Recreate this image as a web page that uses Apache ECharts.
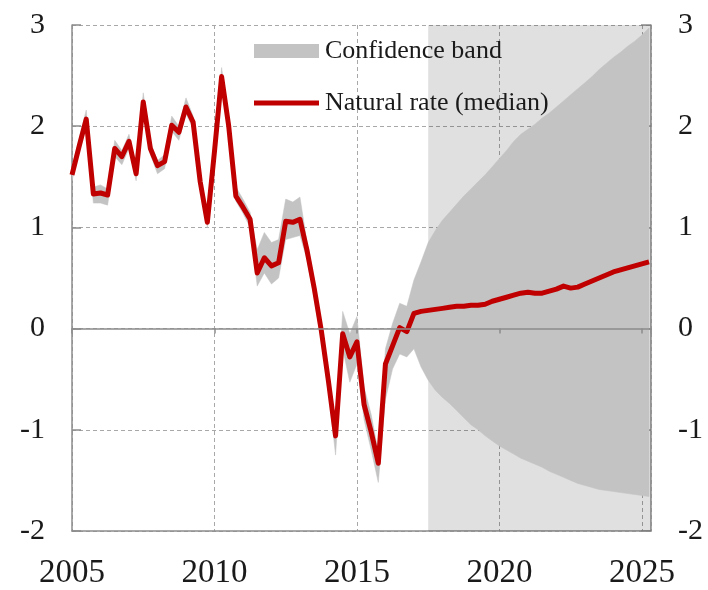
<!DOCTYPE html>
<html>
<head>
<meta charset="utf-8">
<script src="https://cdn.jsdelivr.net/npm/echarts@6/dist/echarts.min.js"></script>
<style>
  html, body { margin: 0; padding: 0; background: #ffffff; }
  #chart { width: 708px; height: 590px; }
</style>
</head>
<body>
<div id="chart"></div>
<script>
// Quarterly observations starting 2005Q1 (x = year + quarter offset)
const firstYear = 2005;
const quarterStep = 0.25;

// Natural rate of interest, median estimate (%), 2005Q1 .. 2025Q2
const median = [
  1.52, 1.80, 2.07, 1.33, 1.34, 1.32, 1.78, 1.70, 1.85, 1.53, 2.24, 1.78,
  1.61, 1.65, 2.01, 1.94, 2.19, 2.04, 1.45, 1.05, 1.75, 2.49, 2.00, 1.31,
  1.20, 1.08, 0.55, 0.70, 0.62, 0.65, 1.06, 1.05, 1.08, 0.77, 0.40, -0.02,
  -0.52, -1.06, -0.05, -0.28, -0.13, -0.75, -1.02, -1.33, -0.35, -0.17, 0.01, -0.03,
  0.15, 0.17, 0.18, 0.19, 0.20, 0.21, 0.22, 0.22, 0.23, 0.23, 0.24, 0.27,
  0.29, 0.31, 0.33, 0.35, 0.36, 0.35, 0.35, 0.37, 0.39, 0.42, 0.40, 0.41,
  0.44, 0.47, 0.50, 0.53, 0.56, 0.58, 0.60, 0.62, 0.64, 0.66
];

// Upper edge of the confidence band
const bandUpper = [
  1.58, 1.88, 2.16, 1.40, 1.42, 1.38, 1.86, 1.76, 1.92, 1.60, 2.33, 1.84,
  1.66, 1.72, 2.10, 2.00, 2.28, 2.10, 1.52, 1.10, 1.80, 2.58, 2.06, 1.40,
  1.28, 1.15, 0.78, 0.95, 0.85, 0.88, 1.28, 1.25, 1.30, 0.85, 0.48, 0.05,
  -0.44, -0.98, 0.17, -0.05, 0.12, -0.58, -0.85, -1.22, -0.20, 0.05, 0.25, 0.22,
  0.48, 0.66, 0.85, 0.97, 1.07, 1.15, 1.23, 1.31, 1.38, 1.45, 1.52, 1.60,
  1.68, 1.76, 1.85, 1.92, 1.97, 2.02, 2.08, 2.13, 2.19, 2.25, 2.31, 2.37,
  2.43, 2.49, 2.56, 2.62, 2.68, 2.73, 2.79, 2.84, 2.90, 2.97
];

// Lower edge of the confidence band
const bandLower = [
  1.46, 1.74, 2.00, 1.24, 1.24, 1.22, 1.70, 1.62, 1.78, 1.46, 2.18, 1.72,
  1.53, 1.58, 1.95, 1.86, 2.12, 1.98, 1.40, 1.00, 1.70, 2.44, 1.94, 1.26,
  1.14, 1.00, 0.42, 0.55, 0.44, 0.50, 0.88, 0.90, 0.92, 0.68, 0.30, -0.12,
  -0.62, -1.25, -0.20, -0.53, -0.35, -0.90, -1.20, -1.52, -0.70, -0.40, -0.25, -0.28,
  -0.20, -0.38, -0.51, -0.61, -0.68, -0.74, -0.81, -0.88, -0.95, -1.00, -1.06, -1.11,
  -1.16, -1.20, -1.24, -1.28, -1.31, -1.34, -1.37, -1.41, -1.44, -1.47, -1.50, -1.53,
  -1.55, -1.57, -1.59, -1.60, -1.61, -1.62, -1.63, -1.64, -1.65, -1.66
];

// Projection period (shaded)
const forecastStart = 2017.5;

// Axis ticks
const yearTicks = [2005, 2010, 2015, 2020, 2025];
const valueTicks = [-2, -1, 0, 1, 2, 3];

const xMin = yearTicks[0];
const xMax = 2025.32;
const yMin = valueTicks[0];
const yMax = valueTicks[valueTicks.length - 1];

const xOf = i => firstYear + i * quarterStep;
const medianData = median.map((v, i) => [xOf(i), v]);
const bandData = bandUpper.map((v, i) => [xOf(i), v, bandLower[i]]);

const FONT = '"Liberation Serif", "Times New Roman", serif';
const AXIS_GREY = '#8c8c8c';
const GRID_GREY = '#a8a8a8';
const BAND = '#c3c3c3';
const RED = '#c00000';

// The band is one polygon: upper edge left→right, lower edge right→left
function renderBand(params, api) {
  if (params.dataIndex !== 0) return null;
  const pts = [];
  for (let i = 0; i < bandData.length; i++) {
    pts.push(api.coord([bandData[i][0], bandData[i][1]]));
  }
  for (let i = bandData.length - 1; i >= 0; i--) {
    pts.push(api.coord([bandData[i][0], bandData[i][2]]));
  }
  return {
    type: 'polygon',
    shape: { points: pts },
    style: { fill: BAND, stroke: BAND, lineWidth: 0.5 }
  };
}

const chart = echarts.init(document.getElementById('chart'), null, { renderer: 'canvas' });

chart.setOption({
  animation: false,
  backgroundColor: '#ffffff',
  grid: { left: 72, right: 57, top: 25, bottom: 57, containLabel: false },
  legend: {
    orient: 'vertical',
    left: 254,
    top: 38,
    itemWidth: 65,
    itemHeight: 14,
    itemGap: 26,
    padding: 0,
    selectedMode: false,
    itemStyle: { borderWidth: 0 },
    textStyle: { fontFamily: FONT, fontSize: 26, color: '#1a1a1a', padding: [0, 0, 0, 1] },
    data: [
      { name: 'Confidence band', icon: 'rect', itemStyle: { color: BAND } },
      { name: 'Natural rate (median)', icon: 'path://M0,0H65V5H0Z', itemStyle: { color: RED } }
    ]
  },
  xAxis: [
    {
      type: 'value',
      min: xMin,
      max: xMax,
      interval: 5,
      position: 'bottom',
      axisLine: { onZero: false, lineStyle: { color: AXIS_GREY, width: 1.5 } },
      axisTick: { show: false },
      axisLabel: {
        fontFamily: FONT, fontSize: 33, color: '#1a1a1a', margin: 26,
        formatter: v => String(v)
      },
      splitLine: { show: true, lineStyle: { color: GRID_GREY, type: [4, 3], width: 1 } }
    },
    {
      // zero line with its year ticks, drawn above the band
      type: 'value',
      min: xMin,
      max: xMax,
      interval: 5,
      position: 'bottom',
      z: 10,
      axisLine: { show: true, onZero: true, lineStyle: { color: AXIS_GREY, width: 1.5 } },
      axisTick: { show: true, inside: false, length: 5, lineStyle: { color: AXIS_GREY, width: 1.5 } },
      axisLabel: { show: false },
      splitLine: { show: false }
    }
  ],
  yAxis: [
    {
      type: 'value',
      position: 'left',
      min: yMin,
      max: yMax,
      interval: 1,
      axisLine: { show: true, lineStyle: { color: AXIS_GREY, width: 1.5 } },
      axisTick: { show: true, inside: true, length: 9, lineStyle: { color: AXIS_GREY, width: 1.5 } },
      axisLabel: { fontFamily: FONT, fontSize: 30, color: '#1a1a1a', margin: 27 },
      splitLine: { show: true, lineStyle: { color: GRID_GREY, type: [4, 3], width: 1 } }
    },
    {
      type: 'value',
      position: 'right',
      min: yMin,
      max: yMax,
      interval: 1,
      axisLine: { show: true, lineStyle: { color: AXIS_GREY, width: 1.5 } },
      axisTick: { show: true, inside: true, length: 10, lineStyle: { color: AXIS_GREY, width: 1.5 } },
      axisLabel: { fontFamily: FONT, fontSize: 30, color: '#1a1a1a', margin: 27 },
      splitLine: { show: false }
    }
  ],
  series: [
    {
      // projection-period shading
      name: 'Projection',
      type: 'line',
      xAxisIndex: 0,
      yAxisIndex: 0,
      data: [],
      z: 1,
      silent: true,
      markArea: {
        silent: true,
        itemStyle: { color: 'rgba(0,0,0,0.12)' },
        data: [[{ xAxis: forecastStart }, { xAxis: xMax }]]
      }
    },
    {
      name: 'Confidence band',
      type: 'custom',
      xAxisIndex: 0,
      yAxisIndex: 0,
      data: bandData,
      encode: { x: 0, y: [1, 2] },
      renderItem: renderBand,
      itemStyle: { color: BAND },
      clip: true,
      z: 2,
      silent: true
    },
    {
      name: 'Natural rate (median)',
      type: 'line',
      xAxisIndex: 0,
      yAxisIndex: 0,
      data: medianData,
      symbol: 'none',
      color: RED,
      itemStyle: { color: RED },
      lineStyle: { color: RED, width: 5, join: 'round' },
      z: 4
    }
  ]
});
</script>
</body>
</html>
